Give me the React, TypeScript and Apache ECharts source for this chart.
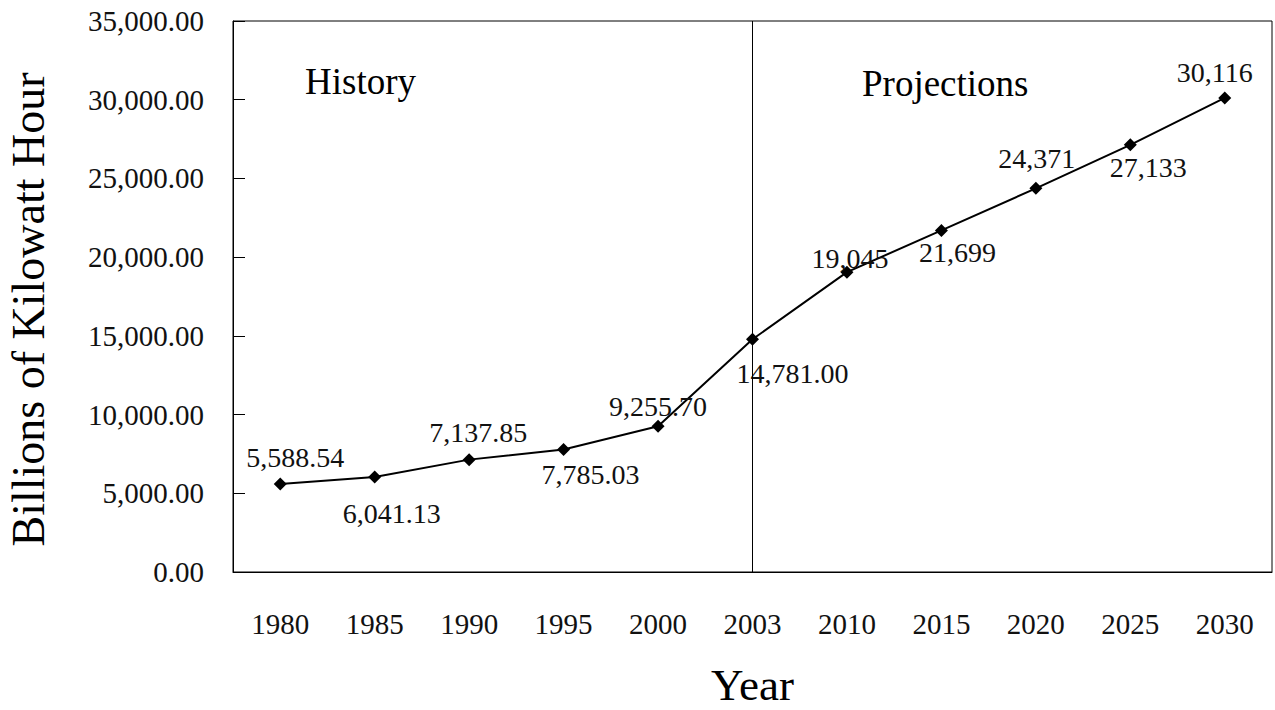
import React, { useEffect, useRef } from "react";
import * as echarts from "echarts";

const years = ["1980", "1985", "1990", "1995", "2000", "2003", "2010", "2015", "2020", "2025", "2030"];
const consumption = [5588.54, 6041.13, 7137.85, 7785.03, 9255.7, 14781.0, 19045, 21699, 24371, 27133, 30116];
const decimals = [2, 2, 2, 2, 2, 2, 0, 0, 0, 0, 0];
const labelOffsets: [number, number][] = [
  [15, -27], [17, 37], [9, -27], [27, 25], [0, -20], [40, 34], [3, -14], [16, 22], [1, -30], [18, 23], [-10, -25],
];
const yTicks = { min: 0, max: 35000, interval: 5000 };

const SERIF = "'Liberation Serif', 'Times New Roman', serif";

function fmt(v: number, d: number) {
  return v.toLocaleString("en-US", { minimumFractionDigits: d, maximumFractionDigits: d });
}

export default function App() {
  const ref = useRef<HTMLDivElement>(null);
  useEffect(() => {
    if (!ref.current) return;
    const chart = echarts.init(ref.current, null, { renderer: "svg" });
    chart.setOption({
      animation: false,
      backgroundColor: "#fff",
      grid: {
        left: 233,
        right: 3,
        top: 21,
        bottom: 138,
        outerBoundsMode: "none",
        containLabel: false,
        show: true,
        borderColor: "#000",
        borderWidth: 1,
        backgroundColor: "transparent",
      },
      xAxis: {
        type: "category",
        data: years,
        boundaryGap: true,
        name: "Year",
        nameLocation: "middle",
        nameGap: 90,
        nameTextStyle: { fontFamily: SERIF, fontSize: 45, color: "#000" },
        axisLine: { lineStyle: { color: "#000", width: 1 } },
        axisTick: { inside: true, length: 10, lineStyle: { color: "#000" } },
        axisLabel: { fontFamily: SERIF, fontSize: 29, color: "#111", margin: 37 },
      },
      yAxis: {
        type: "value",
        min: yTicks.min,
        max: yTicks.max,
        interval: yTicks.interval,
        name: "Billions of Kilowatt Hour",
        nameLocation: "middle",
        nameGap: 182,
        nameTextStyle: { fontFamily: SERIF, fontSize: 46, color: "#000", padding: [0, 26, 0, 0] },
        axisLine: { show: true, lineStyle: { color: "#000", width: 1 } },
        axisTick: { show: true, inside: true, length: 12, lineStyle: { color: "#000" } },
        splitLine: { show: false },
        axisLabel: {
          fontFamily: SERIF,
          fontSize: 29,
          color: "#111",
          margin: 29,
          formatter: (v: number) => fmt(v, 2),
        },
      },
      graphic: [
        {
          type: "text",
          left: 305,
          top: 63,
          style: { text: "History", fontFamily: SERIF, fontSize: 37, fill: "#000" },
        },
        {
          type: "text",
          left: 862,
          top: 65,
          style: { text: "Projections", fontFamily: SERIF, fontSize: 37, fill: "#000" },
        },
      ],
      series: [
        {
          type: "line",
          data: consumption.map((v, i) => ({
            value: v,
            label: {
              show: true,
              position: "inside",
              offset: labelOffsets[i],
              formatter: () => fmt(v, decimals[i]),
            },
          })),
          symbol: "diamond",
          symbolSize: 13,
          itemStyle: { color: "#000" },
          lineStyle: { color: "#000", width: 2 },
          label: { fontFamily: SERIF, fontSize: 28, color: "#111" },
          markLine: {
            silent: true,
            symbol: "none",
            label: { show: false },
            lineStyle: { color: "#000", width: 1, type: "solid" },
            data: [{ xAxis: "2003" }],
          },
        },
      ],
    });
    return () => chart.dispose();
  }, []);
  return <div ref={ref} style={{ width: 1275, height: 710, position: "absolute", left: 0, top: 0 }} />;
}
